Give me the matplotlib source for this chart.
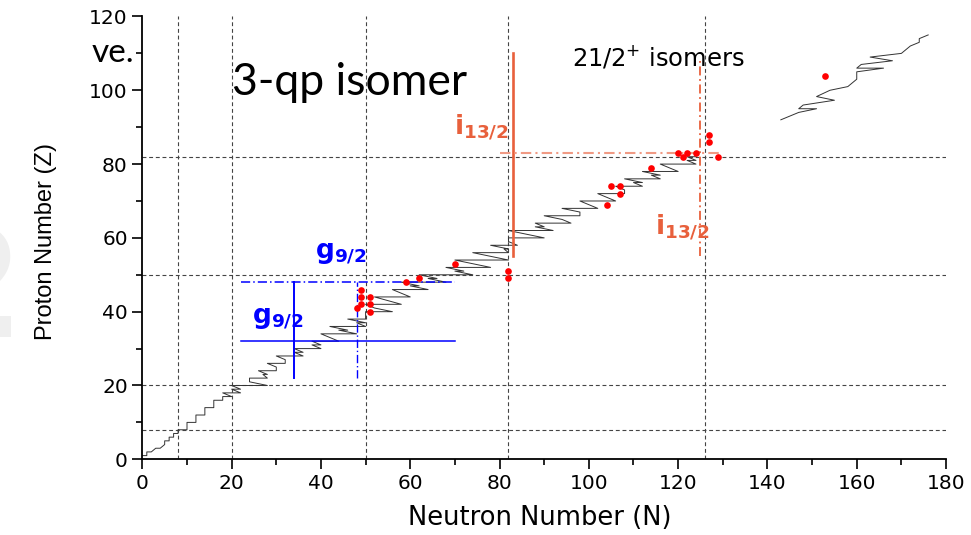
import matplotlib
matplotlib.use("Agg")
import matplotlib.pyplot as plt
from matplotlib.ticker import MultipleLocator

# stable nuclides: proton number and lowest / highest neutron number
Z_stable = [1, 2, 3, 4, 5, 6, 7, 8, 9, 10,
            11, 12, 13, 14, 15, 16, 17, 18, 19, 20,
            21, 22, 23, 24, 25, 26, 27, 28, 29, 30,
            31, 32, 33, 34, 35, 36, 37, 38, 39, 40,
            41, 42, 44, 45, 46, 47, 48, 49, 50, 51,
            52, 53, 54, 55, 56, 57, 58, 59, 60, 62,
            63, 64, 65, 66, 67, 68, 69, 70, 71, 72,
            73, 74, 75, 76, 77, 78, 79, 80, 81, 82]
N_lo = [0, 1, 3, 5, 5, 6, 7, 8, 10, 10,
        12, 12, 14, 14, 16, 16, 18, 18, 20, 20,
        24, 24, 27, 26, 30, 28, 32, 30, 34, 34,
        38, 38, 42, 40, 44, 42, 48, 46, 50, 50,
        52, 50, 52, 58, 56, 60, 58, 64, 62, 70,
        68, 74, 70, 78, 74, 81, 78, 82, 82, 82,
        88, 88, 94, 90, 98, 94, 100, 98, 104, 102,
        108, 106, 110, 108, 114, 112, 118, 116, 122, 122]
N_hi = [1, 2, 4, 5, 6, 7, 8, 10, 10, 12,
        12, 14, 14, 16, 16, 18, 20, 22, 22, 28,
        24, 28, 28, 30, 30, 32, 32, 36, 36, 40,
        40, 44, 42, 48, 46, 50, 50, 50, 50, 56,
        52, 58, 60, 58, 64, 62, 68, 66, 74, 72,
        78, 74, 82, 78, 82, 82, 84, 82, 90, 92,
        90, 96, 94, 98, 98, 102, 100, 106, 104, 108,
        108, 112, 112, 116, 116, 120, 118, 124, 124, 124]

# heavy / superheavy piece of the line
heavy_N = [143, 147, 151, 147, 148, 155, 151, 154, 158, 160, 160,
           166, 160, 161, 168, 163, 170, 171, 172, 174, 174, 176]
heavy_Z = [92, 94, 95, 95, 96, 97.3, 98.3, 100, 101, 103, 105,
           106, 106, 107, 108, 109, 110, 111, 112, 113, 114, 115]

# 21/2+ isomers
iso_N = [49, 49, 51, 49, 51, 48, 51, 59, 62, 70, 82, 82,
         104, 105, 107, 107, 114, 120, 121, 122, 124, 127, 127, 129, 153]
iso_Z = [46, 44, 44, 42, 42, 41, 40, 48, 49, 53, 51, 49,
         69, 74, 74, 72, 79, 83, 82, 83, 83, 88, 86, 82, 104]

magic = [8, 20, 50, 82, 126]

# build the zig-zag path through the stable nuclides
path_N, path_Z = [], []
for z, lo, hi in zip(Z_stable, N_lo, N_hi):
    path_N += [lo, hi]
    path_Z += [z, z]

fig = plt.figure(figsize=(9.71, 5.35), dpi=100)

# faint watermark behind everything
fig.text(-0.085, 0.37, "2", fontsize=110, color="#efefef", fontweight="bold", zorder=0)

ax = fig.add_axes([0.1466, 0.1415, 0.8277, 0.8277])
ax.patch.set_alpha(0)
ax.set_xlim(0, 180)
ax.set_ylim(0, 120)

dash = (0, (3.5, 2.5))
for m in magic:
    ax.axvline(m, color="#444444", lw=0.8, ls=dash, zorder=1)
    if m < 120:
        ax.axhline(m, color="#444444", lw=0.8, ls=dash, zorder=1)

ax.plot(path_N, path_Z, color="#333333", lw=0.7, zorder=2)
ax.plot(heavy_N, heavy_Z, color="#333333", lw=0.7, zorder=2)

# g9/2 lines (blue)
blue = "#0000ff"
ax.plot([34, 34], [22, 48], color=blue, lw=1.4, zorder=3)
ax.plot([22, 70], [32, 32], color=blue, lw=1.1, zorder=3)
ax.plot([22, 70], [48, 48], color=blue, lw=1.1, ls=(0, (6, 2, 1, 2)), zorder=3)
ax.plot([48, 48], [22, 48], color=blue, lw=1.0, ls=(0, (6, 2, 1, 2)), zorder=3)

# i13/2 lines (red)
red = "#e8603c"
ax.plot([83, 83], [55, 110], color=red, lw=1.9, zorder=3)
ax.plot([80, 129.5], [83, 83], color="#f09a84", lw=1.5, ls=(0, (5, 2, 1, 2)), zorder=3)
ax.plot([125, 125], [55, 108], color=red, lw=1.3, ls=(0, (5, 2, 1, 2)), zorder=3)

ax.plot(iso_N, iso_Z, "o", color="#ff0000", ms=4.8, mec="none", zorder=4)

# labels
ax.text(38.7, 54.5, r"$\mathbf{g}_{\mathbf{9/2}}$", color=blue, fontsize=19)
ax.text(24.5, 36.9, r"$\mathbf{g}_{\mathbf{9/2}}$", color=blue, fontsize=19)
ax.text(69.8, 88.0, r"$\mathbf{i}_{\mathbf{13/2}}$", color=red, fontsize=19)
ax.text(114.8, 60.8, r"$\mathbf{i}_{\mathbf{13/2}}$", color=red, fontsize=19)
ax.text(96.2, 106.6, r"21/2$^{+}$ isomers", fontsize=17.5, va="baseline")
ax.text(20.0, 98.7, "3-qp isomer", family="Lato", fontsize=32, va="baseline")

for s in ["top", "right"]:
    ax.spines[s].set_visible(False)
for s in ["left", "bottom"]:
    ax.spines[s].set_linewidth(1.3)

ax.xaxis.set_major_locator(MultipleLocator(20))
ax.xaxis.set_minor_locator(MultipleLocator(10))
ax.yaxis.set_major_locator(MultipleLocator(20))
ax.yaxis.set_minor_locator(MultipleLocator(10))
ax.tick_params(which="major", direction="out", length=7, width=1.2, labelsize=14.5)
ax.tick_params(which="minor", direction="out", length=4, width=1.2)

fig.text(0.5556, 0.032, "Neutron Number (N)", ha="center", va="center", fontsize=18.5)
fig.text(0.0474, 0.548, "Proton Number (Z)", ha="center", va="center", rotation=90,
         family="Liberation Sans", fontsize=17)
fig.text(0.0947, 0.884, "ve.", family="Lato", fontsize=24, va="baseline")

fig.savefig("out.png", dpi=100)
